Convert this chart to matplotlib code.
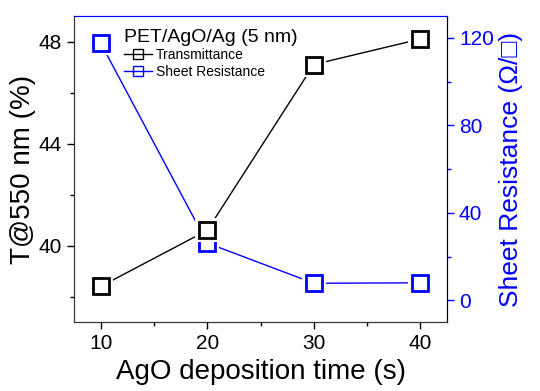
import matplotlib.pyplot as plt
from matplotlib.ticker import MultipleLocator
from matplotlib.lines import Line2D

plt.rcParams['font.family'] = ['Liberation Sans', 'DejaVu Sans']

time_s = [10, 20, 30, 40]
transmittance = [38.4, 40.6, 47.1, 48.1]
sheet_res = [117.7, 26.2, 7.8, 8.0]

blue = '#0000ff'

fig, ax = plt.subplots(figsize=(5.4, 3.91), dpi=100)
fig.subplots_adjust(left=0.137, right=0.828, top=0.959, bottom=0.176)
ax2 = ax.twinx()

# white squares under the open markers leave a gap between line and marker
ax.plot(time_s, transmittance, color='black', lw=1.0, zorder=1)
ax.plot(time_s, transmittance, ls='none', marker='s', ms=17, mfc='white', mec='white', mew=0, zorder=2)
ax.plot(time_s, transmittance, ls='none', marker='s', ms=12, mfc='none', mec='black', mew=2, zorder=3)

ax2.plot(time_s, sheet_res, color=blue, lw=1.0, zorder=1)
ax2.plot(time_s, sheet_res, ls='none', marker='s', ms=17, mfc='white', mec='white', mew=0, zorder=2)
ax2.plot(time_s, sheet_res, ls='none', marker='s', ms=12, mfc='none', mec=blue, mew=2, zorder=3)

ax.set_xlim(7.5, 42.5)
ax.set_ylim(37, 49)
ax2.set_ylim(-10, 130)

ax.xaxis.set_major_locator(MultipleLocator(10))
ax.xaxis.set_minor_locator(MultipleLocator(5))
ax.yaxis.set_major_locator(MultipleLocator(4))
ax.yaxis.set_minor_locator(MultipleLocator(2))
ax2.yaxis.set_major_locator(MultipleLocator(40))
ax2.yaxis.set_minor_locator(MultipleLocator(20))

ax.tick_params(which='major', length=5, width=1, labelsize=15, direction='out')
ax.tick_params(which='minor', length=3, width=1, direction='out')
ax2.tick_params(which='major', length=5, width=1, labelsize=15, colors=blue, direction='out')
ax2.tick_params(which='minor', length=3, width=1, colors=blue, direction='out')

for s in ['left', 'bottom']:
    ax.spines[s].set_color('#333333')
    ax2.spines[s].set_color('#333333')
ax2.spines['right'].set_color(blue)
ax2.spines['top'].set_color(blue)
ax.spines['top'].set_color(blue)

ax.set_xlabel('AgO deposition time (s)', fontsize=20, labelpad=4)
ax.set_ylabel('T@550 nm (%)', fontsize=20, labelpad=2)
ax2.set_ylabel('Sheet Resistance (Ω/□)', fontsize=19, color=blue, labelpad=4)

handles = [
    Line2D([], [], color='black', lw=1, marker='s', ms=7, mfc='none', mec='black', mew=1),
    Line2D([], [], color=blue, lw=1, marker='s', ms=7, mfc='none', mec=blue, mew=1),
]
leg = ax.legend(handles, ['Transmittance', 'Sheet Resistance'], loc='upper left',
                bbox_to_anchor=(0.1, 1.0), frameon=False, fontsize=10,
                title='PET/AgO/Ag (5 nm)', title_fontsize=14,
                handlelength=2.0, handletextpad=0.3, labelspacing=0.2)
leg._legend_box.align = 'left'
ax.set_zorder(ax2.get_zorder() + 1)
ax.patch.set_visible(False)

fig.savefig('out.png', dpi=100)
